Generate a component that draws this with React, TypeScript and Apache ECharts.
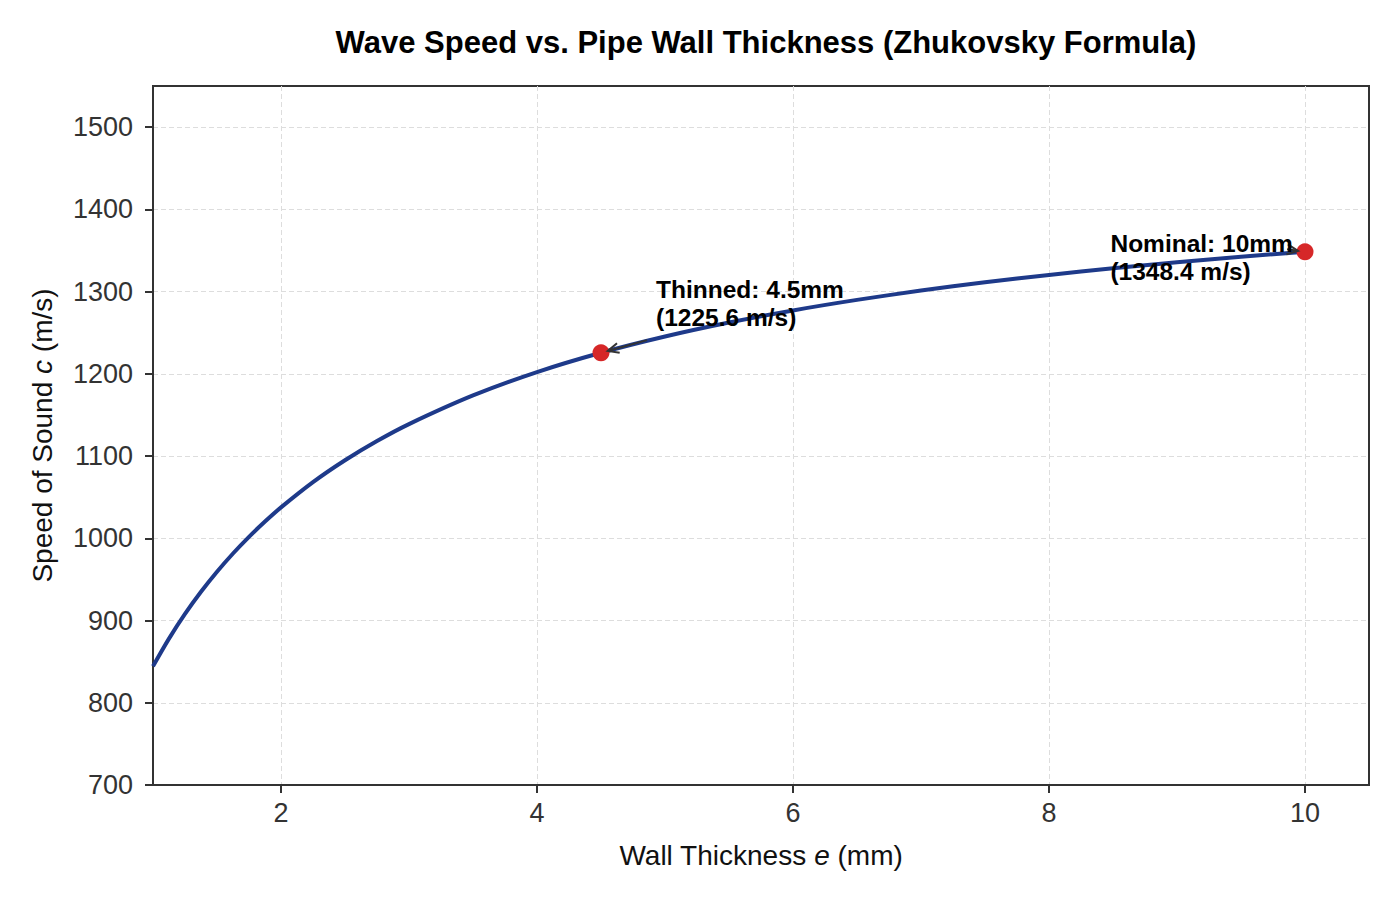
import React, { useEffect, useRef } from "react";
import * as echarts from "echarts";

// Wall thickness e (mm) and the resulting wave speed c (m/s)
const thickness = [
  1, 1.125, 1.25, 1.375, 1.5, 1.625, 1.75, 1.875, 2, 2.25, 2.5, 2.75, 3, 3.5, 4, 4.5, 5, 5.5,
  6, 6.5, 7, 7.5, 8, 8.5, 9, 9.5, 10,
];
const waveSpeed = [
  844.4, 878.0, 908.0, 934.9, 959.3, 981.5, 1001.8, 1020.4, 1037.6, 1068.3, 1094.9, 1118.3,
  1138.9, 1173.7, 1202.1, 1225.6, 1245.4, 1262.4, 1277.1, 1289.9, 1301.2, 1311.3, 1320.3,
  1328.4, 1335.7, 1342.3, 1348.4,
];

// Highlighted operating points
const pointNames = ["Thinned", "Nominal"];
const pointThickness = [4.5, 10];
const pointSpeed = [1225.6, 1348.4];
// Label anchors (left edge, vertical middle) and arrow tails, in data units
const labelAnchor: [number, number][] = [
  [4.93, 1286],
  [8.48, 1342],
];
const arrowTail: [number, number][] = [
  [4.86, 1241],
  [9.86, 1351.5],
];

const xTicks = [2, 4, 6, 8, 10];
const yTicks = [700, 800, 900, 1000, 1100, 1200, 1300, 1400, 1500];

const FONT = '"Liberation Sans", Arial, Helvetica, sans-serif';
const INK = "#333333";

export default function App() {
  const ref = useRef<HTMLDivElement>(null);

  useEffect(() => {
    if (!ref.current) return;
    const chart = echarts.init(ref.current, undefined, { renderer: "svg" });

    const axisCommon = {
      axisLine: { show: true, lineStyle: { color: INK, width: 2 } },
      axisTick: { show: true, inside: false, length: 8, lineStyle: { color: INK, width: 2 } },
      splitLine: { show: true, lineStyle: { color: "#dddddd", width: 1, type: [5, 3] } },
    };

    chart.setOption({
      animation: false,
      backgroundColor: "#ffffff",
      title: {
        text: "Wave Speed vs. Pipe Wall Thickness (Zhukovsky Formula)",
        left: 761,
        textAlign: "center",
        top: 22,
        textStyle: { fontFamily: FONT, fontSize: 31, fontWeight: "bold", color: "#000" },
      },
      grid: {
        left: 153,
        right: 31,
        top: 86,
        bottom: 115,
        show: true,
        borderColor: INK,
        borderWidth: 2,
      },
      xAxis: {
        type: "value",
        min: 1,
        max: 10.5,
        ...axisCommon,
        axisTick: { ...axisCommon.axisTick, customValues: xTicks },
        axisLabel: {
          customValues: xTicks,
          color: INK,
          fontFamily: FONT,
          fontSize: 27,
          margin: 14,
          formatter: (v: number) => String(v),
        },
        name: "Wall Thickness {i|e} (mm)",
        nameLocation: "middle",
        nameGap: 56,
        nameTextStyle: {
          fontFamily: FONT,
          fontSize: 28,
          color: "#111",
          rich: { i: { fontFamily: FONT, fontSize: 28, fontStyle: "italic", color: "#111" } },
        },
      },
      yAxis: {
        type: "value",
        min: 700,
        max: 1550,
        ...axisCommon,
        axisTick: { ...axisCommon.axisTick, customValues: yTicks },
        axisLabel: {
          customValues: yTicks,
          color: INK,
          fontFamily: FONT,
          fontSize: 27,
          margin: 20,
          formatter: (v: number) => String(v),
        },
        name: "Speed of Sound {i|c} (m/s)",
        nameLocation: "middle",
        nameRotate: 90,
        nameGap: 97,
        nameTextStyle: {
          fontFamily: FONT,
          fontSize: 28,
          color: "#111",
          rich: { i: { fontFamily: FONT, fontSize: 28, fontStyle: "italic", color: "#111" } },
        },
      },
      series: [
        {
          type: "line",
          data: thickness.map((e, i) => [e, waveSpeed[i]]),
          smooth: 0.3,
          showSymbol: false,
          lineStyle: { color: "#1e3a8a", width: 4 },
          z: 2,
        },
        {
          type: "scatter",
          data: pointThickness.map((e, i) => [e, pointSpeed[i]]),
          symbolSize: 17,
          itemStyle: { color: "#d62728", opacity: 1 },
          z: 5,
        },
      ],
    });

    // Annotations: bold labels with open arrows pointing at the highlighted points
    const toPx = (p: [number, number]) => chart.convertToPixel({ gridIndex: 0 }, p) as number[];
    const graphics: any[] = [];
    pointNames.forEach((name, i) => {
      const anchor = toPx(labelAnchor[i]);
      const tail = toPx(arrowTail[i]);
      const target = toPx([pointThickness[i], pointSpeed[i]]);
      const dx = target[0] - tail[0];
      const dy = target[1] - tail[1];
      const len = Math.hypot(dx, dy);
      const ux = dx / len;
      const uy = dy / len;
      const head = [target[0] - ux * 7, target[1] - uy * 7];
      const hl = 11;
      const hw = 5;
      const back = [head[0] - ux * hl, head[1] - uy * hl];
      graphics.push({
        type: "line",
        z: 100,
        shape: { x1: tail[0], y1: tail[1], x2: head[0], y2: head[1] },
        style: { stroke: INK, lineWidth: 2 },
      });
      graphics.push({
        type: "polyline",
        z: 100,
        shape: {
          points: [
            [back[0] - uy * hw, back[1] + ux * hw],
            head,
            [back[0] + uy * hw, back[1] - ux * hw],
          ],
        },
        style: { stroke: INK, lineWidth: 2, fill: "none" },
      });
      graphics.push({
        type: "text",
        z: 101,
        x: anchor[0],
        y: anchor[1],
        style: {
          text: `${name}: ${pointThickness[i]}mm\n(${pointSpeed[i].toFixed(1)} m/s)`,
          fontFamily: FONT,
          fontSize: 24.5,
          fontWeight: "bold",
          fill: "#000",
          align: "left",
          verticalAlign: "middle",
          lineHeight: 28,
        },
      });
    });
    chart.setOption({ graphic: graphics });

    return () => chart.dispose();
  }, []);

  return (
    <div
      ref={ref}
      style={{ position: "fixed", left: 0, top: 0, width: 1400, height: 900, background: "#fff" }}
    />
  );
}
